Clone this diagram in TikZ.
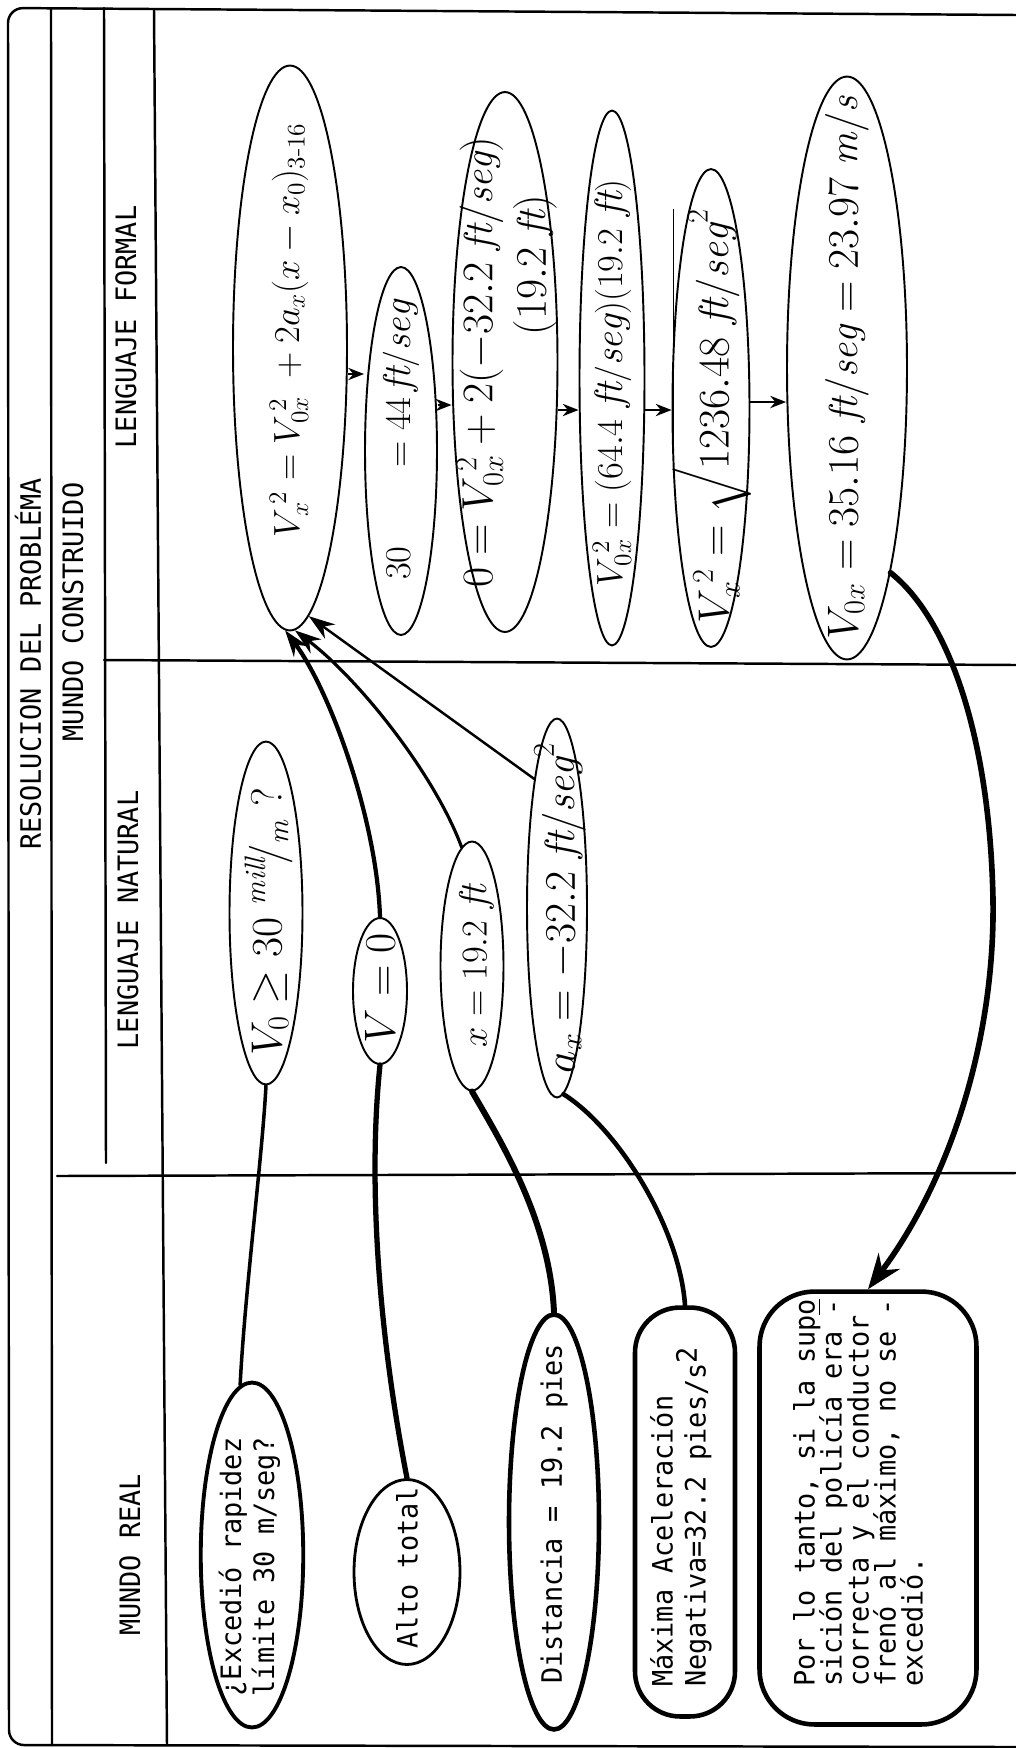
\documentclass[tikz,border=0pt]{standalone}
\usepackage{fontspec}
\usepackage{amsmath}
\usetikzlibrary{shapes.geometric,arrows.meta}

\newfontfamily\typedfont[FakeStretch=0.955]{DejaVu Sans Mono}
\newdimen\pxu
\pxu=0.02cm
\newcommand\tyfont{\typedfont\fontsize{16pt}{18pt}\selectfont}
\newcommand\hwsize[1]{\fontsize{#1pt}{#1pt}\selectfont}
\newcommand\hwunit[1]{\mathit{#1}}
% centre a box vertically on its baseline
\newcommand\centreon[1]{\sbox0{#1}\raisebox{\dimexpr(\dp0-\ht0)/2\relax}{\usebox0}}
% put text at an offset from the node centre without letting it size the node
\newcommand\place[3]{\makebox[0pt]{\hspace*{#1}\hspace*{#1}\raisebox{#2}{\smash{\centreon{#3}}}}}
% typed lines, left aligned, fixed line pitch (in px)
\newcommand\typedlines[2][26]{\vbox{\baselineskip=#1\pxu\lineskiplimit=-\maxdimen\halign{##\hfil\cr#2\crcr}}}

\begin{document}
\begin{tikzpicture}[x=0.02cm, y=-0.02cm,
  sheet/.style={line width=1.4pt, line cap=round},
  hand/.style={ellipse, draw, line width=1.1pt, rotate=90, inner sep=0pt},
  heading/.style={rotate=90, inner sep=0pt, font=\tyfont},
  realbox/.style={draw, line width=2.2pt, rotate=90, inner sep=0pt, font=\tyfont},
  link/.style={line cap=round},
  stepto/.style={line width=1.1pt, -{Stealth[length=9pt,width=7pt]}},
  bigtip/.style={-{Stealth[length=15pt,width=10pt]}},
]
\fill[white] (0,0) rectangle (1016,1748);
\useasboundingbox (0,0) rectangle (1016,1748);

% ---- ruled sheet ----
\draw[sheet, rounded corners=0.3cm] (1016,15) -- (8,8) -- (9,1745) -- (1016,1747);
\draw[sheet] (51,8) -- (52,1745);
\draw[sheet] (104,8) -- (106,1163);
\draw[sheet] (154,9) -- (167,1745);
\draw[sheet] (104,660) -- (1016,665);
\draw[sheet] (57,1176) -- (1016,1173);

% ---- headings ----
\node[heading] (hTitle)   at (28,664)  {RESOLUCION DEL PROBLÉMA};
\node[heading] (hBuilt)   at (73,612)  {MUNDO CONSTRUIDO};
\node[heading] (hFormal)  at (126,327) {LENGUAJE FORMAL};
\node[heading] (hNatural) at (128,920) {LENGUAJE NATURAL};
\node[heading] (hReal)    at (130,1555){MUNDO REAL};

% ---- formal language: chain of equations ----
\node[hand, minimum width=11.3cm, minimum height=2.28cm, font={\hwsize{22}}] (eqGeneral) at (290,348)
  {\place{18\pxu}{2\pxu}{$V_x^{\,2} = V_{0x}^{\,2}\; + 2a_x(x-x_0)_{3\text{-}16}$}};
\node[hand, minimum width=7.36cm, minimum height=1.44cm, font={\hwsize{22}}] (eqSpeed) at (401,451)
  {\place{11\pxu}{0pt}{$30$\hspace{45pt}$=44\,\hwunit{ft/seg}$}};
\node[hand, minimum width=10.8cm, minimum height=2.1cm, font={\hwsize{23}}] (eqZero) at (505,362)
  {\place{0pt}{-5\pxu}{\begin{tabular}{@{}c@{}}$0 = V_{0x}^{\,2} + 2(-32.2\ \hwunit{ft/seg})$\\[5pt]
   \hspace*{194\pxu}$(19.2\ \hwunit{ft})$\end{tabular}}};
\node[hand, minimum width=10.7cm, minimum height=1.3cm, font={\hwsize{22.5}}] (eqSquare) at (612,378)
  {\place{-5\pxu}{0pt}{$V_{0x}^{\,2} = (64.4\ \hwunit{ft/seg})(19.2\ \hwunit{ft})$}};
\node[hand, minimum width=9.56cm, minimum height=1.54cm, font={\hwsize{24}}] (eqRoot) at (711,408)
  {\place{-8\pxu}{0pt}{$V_x^{\,2} = \sqrt{1236.48\ \hwunit{ft/seg}^2}$}};
\node[hand, minimum width=11.66cm, minimum height=2.4cm, font={\hwsize{23}}] (eqResult) at (847,368)
  {\place{0pt}{0pt}{$V_{0x} = 35.16\ \hwunit{ft/seg} = 23.97\ \hwunit{m/s}$}};

\draw[stepto] (eqGeneral.south |- 0,374) -- (eqSpeed.north |- 0,374);
\draw[stepto] (eqSpeed.south |- 0,405) -- (eqZero.north |- 0,405);
\draw[stepto] (eqZero.south |- 0,410) -- (eqSquare.north |- 0,410);
\draw[stepto] (eqSquare.south |- 0,410) -- (eqRoot.north |- 0,410);
\draw[stepto] (eqRoot.south |- 0,402) -- (eqResult.north |- 0,402);

% ---- natural language ----
\node[hand, minimum width=6.86cm, minimum height=1.46cm, font={\hwsize{24}}] (natSpeed) at (266,913)
  {\place{-9\pxu}{-6\pxu}{$V_0 \geq 30\ {}^{\hwunit{mill}}\!/_{\hwunit{m}}\ ?$}};
\node[hand, minimum width=2.92cm, minimum height=1.08cm, font={\hwsize{26}}] (natStop) at (380,991)
  {\place{3\pxu}{0pt}{$V=0$}};
\node[hand, minimum width=4.98cm, minimum height=1.26cm, font={\hwsize{22}}] (natDist) at (472,966)
  {\place{0pt}{-10\pxu}{$x = 19.2\ \hwunit{ft}$}};
\node[hand, minimum width=7.58cm, minimum height=1.2cm, font={\hwsize{24}}] (natAcc) at (557,908)
  {\place{0pt}{-6\pxu}{$a_x = -32.2\ \hwunit{ft/seg}^2$}};

\draw[link, line width=2.4pt, bigtip] (natStop.east) .. controls (377,820) and (330,690) .. (eqGeneral.179);
\draw[link, line width=1.8pt, bigtip] (natDist.5) .. controls (435,775) and (360,680) .. (eqGeneral.181);
\draw[link, line width=1.4pt, bigtip] (natAcc.10) -- (eqGeneral.184);

% ---- real world ----
\node[realbox, ellipse, minimum width=6.9cm, minimum height=2.05cm] (realQ) at (252,1555)
  {\place{-12\pxu}{5\pxu}{\typedlines[33]{¿Excedió rapidez\cr límite 30 m/seg?}}};
\node[realbox, ellipse, line width=1.6pt, minimum width=3.7cm, minimum height=2.12cm] (realStop) at (407,1572)
  {\place{4\pxu}{0pt}{Alto total}};
\node[realbox, ellipse, line width=2.6pt, minimum width=8.3cm, minimum height=1.8cm] (realDist) at (554,1522)
  {\place{8\pxu}{0pt}{Distancia = 19.2 pies}};
\node[realbox, rectangle, rounded corners=0.9cm, line width=2.6pt, minimum width=8.18cm, minimum height=2.0cm] (realAcc) at (685,1512)
  {\place{-5\pxu}{8\pxu}{\typedlines[33]{Máxima Aceleración\cr Negativa=32.2 pies/s\raisebox{5pt}{2}}}};
\node[realbox, rectangle, rounded corners=1.1cm, line width=2.6pt, minimum width=8.66cm, minimum height=4.34cm] (realEnd) at (868,1508)
  {\place{15\pxu}{20\pxu}{\typedlines[27]{Por lo tanto, si la sup\underline{o}\cr
   sición del policía era -\cr correcta y el conductor\cr frenó al máximo, no se -\cr excedió.}}};

\draw[link, line width=2pt] (realQ.4) .. controls (245,1290) and (262,1160) .. (natSpeed.west);
\draw[link, line width=3pt] (realStop.east) .. controls (378,1330) and (368,1180) .. (natStop.west);
\draw[link, line width=3.4pt] (realDist.east) .. controls (550,1220) and (500,1140) .. (natDist.west);
\draw[link, line width=2.6pt] (realAcc.east) .. controls (680,1230) and (620,1130) .. (natAcc.182);

% ---- conclusion back to the real world ----
\draw[link, line width=3.2pt, -{Stealth[length=20pt,width=15pt]}] (eqResult.192)
  .. controls (950,620) and (990,740) .. (993,900)
  .. controls (995,1040) and (950,1180) .. (realEnd.east);
\end{tikzpicture}
\end{document}
